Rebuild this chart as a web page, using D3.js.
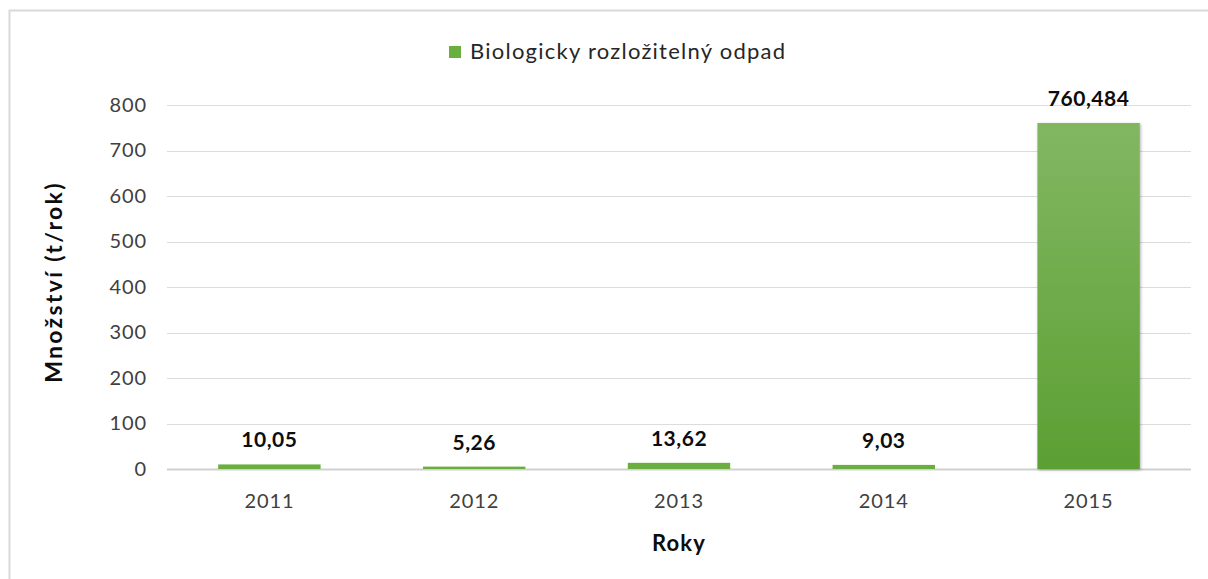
<!DOCTYPE html>
<html>
<head>
<meta charset="utf-8">
<script src="https://cdn.jsdelivr.net/npm/d3@7"></script>
<style>
  body { margin: 0; background: #fff; }
  svg text { font-family: Lato, "Open Sans", sans-serif; }
</style>
</head>
<body>
<svg id="chart"></svg>
<script>
// chart data
var years = ['2011', '2012', '2013', '2014', '2015'];
var values = [10.05, 5.26, 13.62, 9.03, 760.484];
var valueLabels = ['10,05', '5,26', '13,62', '9,03', '760,484'];
var yTicks = [0, 100, 200, 300, 400, 500, 600, 700, 800];
var seriesName = 'Biologicky rozložitelný odpad';

var width = 1208;
var height = 579;
var margin = { left: 167, right: 17, top: 105, bottom: 110 };

var svg = d3.select('#chart')
    .attr('width', width)
    .attr('height', height);

// outer frame
svg.append('rect')
    .attr('x', 9.5).attr('y', 10.5)
    .attr('width', width + 20).attr('height', height + 20)
    .attr('fill', 'none')
    .attr('stroke', '#d9d9d9')
    .attr('stroke-width', 2);

var x = d3.scaleBand()
    .domain(years)
    .range([margin.left, width - margin.right])
    .paddingInner(0.5)
    .paddingOuter(0.25);

var y = d3.scaleLinear()
    .domain([0, 800])
    .range([height - margin.bottom, margin.top]);

var defs = svg.append('defs');
var grad = defs.append('linearGradient')
    .attr('id', 'barGrad')
    .attr('x1', 0).attr('y1', 0).attr('x2', 0).attr('y2', 1);
grad.append('stop').attr('offset', '0%').attr('stop-color', '#82b762');
grad.append('stop').attr('offset', '100%').attr('stop-color', '#5c9f33');

var shadow = defs.append('filter').attr('id', 'shadow')
    .attr('x', '-10%').attr('y', '-10%').attr('width', '120%').attr('height', '120%');
shadow.append('feDropShadow')
    .attr('dx', 1).attr('dy', 1).attr('stdDeviation', 1.5)
    .attr('flood-color', '#000').attr('flood-opacity', 0.3);

// gridlines
svg.append('g')
    .selectAll('line')
    .data(yTicks)
    .enter().append('line')
    .attr('x1', margin.left)
    .attr('x2', width - margin.right)
    .attr('y1', function(d) { return Math.round(y(d)) + 0.5; })
    .attr('y2', function(d) { return Math.round(y(d)) + 0.5; })
    .attr('stroke', function(d) { return d === 0 ? '#d0d0d0' : '#dcdcdc'; })
    .attr('stroke-width', function(d) { return d === 0 ? 2 : 1; });

// y axis labels
var yAxis = d3.axisLeft(y).tickValues(yTicks).tickSize(0).tickPadding(0);
var yg = svg.append('g')
    .attr('transform', 'translate(147,0)')
    .call(yAxis);
yg.select('.domain').remove();
yg.selectAll('text')
    .attr('font-size', 20)
    .attr('letter-spacing', 0.9)
    .attr('fill', '#404040');

// x axis labels
var xAxis = d3.axisBottom(x).tickSize(0).tickPadding(0);
var xg = svg.append('g')
    .attr('transform', 'translate(0,' + (height - margin.bottom + 25) + ')')
    .call(xAxis);
xg.select('.domain').remove();
xg.selectAll('text')
    .attr('font-size', 20)
    .attr('letter-spacing', 0.9)
    .attr('fill', '#404040');

// bars
svg.append('g')
    .selectAll('rect')
    .data(values)
    .enter().append('rect')
    .attr('x', function(d, i) { return x(years[i]); })
    .attr('width', x.bandwidth())
    .attr('y', function(d) { return y(d); })
    .attr('height', function(d) { return y(0) - y(d); })
    .attr('fill', function(d, i) { return i === 4 ? 'url(#barGrad)' : '#6aae3f'; })
    .attr('filter', function(d, i) { return i === 4 ? 'url(#shadow)' : null; });

// value labels
svg.append('g')
    .selectAll('text')
    .data(values)
    .enter().append('text')
    .attr('x', function(d, i) { return x(years[i]) + x.bandwidth() / 2; })
    .attr('y', function(d) { return y(d) - 17; })
    .attr('text-anchor', 'middle')
    .attr('font-size', 21)
    .attr('font-weight', 'bold')
    .attr('letter-spacing', 0.5)
    .attr('fill', '#0d0d0d')
    .text(function(d, i) { return valueLabels[i]; });

// axis titles
svg.append('text')
    .attr('transform', 'translate(62,282) rotate(-90)')
    .attr('text-anchor', 'middle')
    .attr('font-size', 23)
    .attr('font-weight', 'bold')
    .attr('letter-spacing', 2.3)
    .attr('fill', '#0d0d0d')
    .text('Množství (t/rok)');

svg.append('text')
    .attr('x', (margin.left + width - margin.right) / 2)
    .attr('y', 551)
    .attr('text-anchor', 'middle')
    .attr('font-size', 22)
    .attr('font-weight', 'bold')
    .attr('letter-spacing', 1.2)
    .attr('fill', '#0d0d0d')
    .text('Roky');

// legend
var legend = svg.append('g').attr('transform', 'translate(449,46)');
legend.append('rect')
    .attr('width', 12).attr('height', 12)
    .attr('fill', '#6aae3f');
legend.append('text')
    .attr('x', 21).attr('y', 13)
    .attr('font-size', 22)
    .attr('letter-spacing', 1.25)
    .attr('fill', '#262626')
    .text(seriesName);
</script>
</body>
</html>
